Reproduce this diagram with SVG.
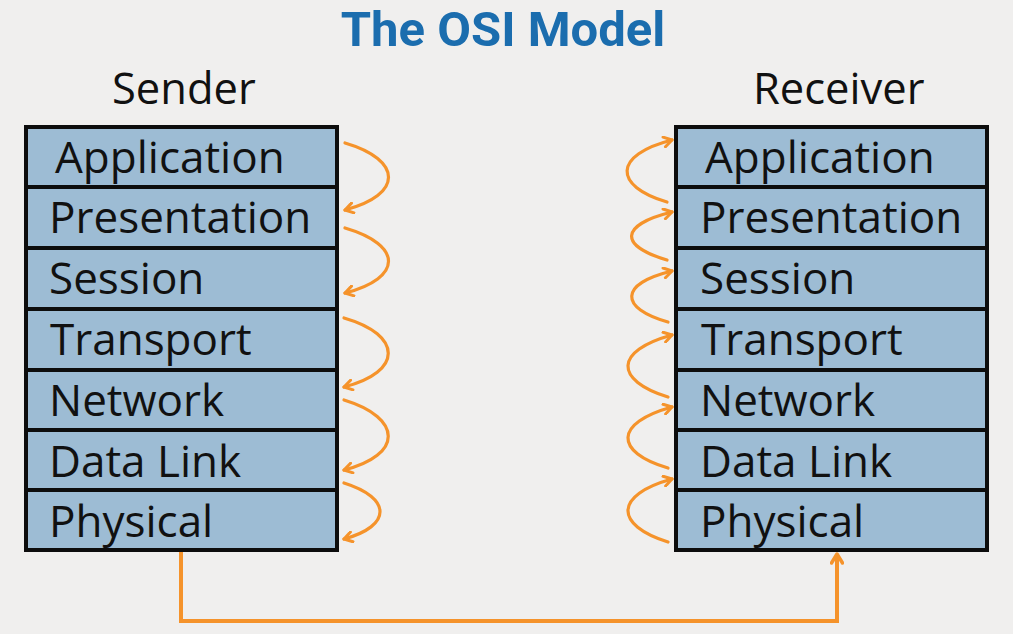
<svg xmlns="http://www.w3.org/2000/svg" width="1013" height="634" viewBox="0 0 1013 634">
<defs>
<style>
.row{fill:#9dbcd4;stroke:#0d0d0d;stroke-width:4}
.lbl{font-family:"Open Sans","Noto Sans",sans-serif;font-size:44px;fill:#111}
.hdr{font-family:"Open Sans","Noto Sans",sans-serif;font-size:43.5px;fill:#111}
.arc{fill:none;stroke:#f5932b;stroke-width:3.2;stroke-linecap:round}
.wire{fill:none;stroke:#f5932b;stroke-width:4}
</style>
<marker id="ah" viewBox="0 0 12 12" refX="10" refY="6" markerWidth="12" markerHeight="12" markerUnits="userSpaceOnUse" orient="auto">
<path d="M2,1 L10,6 L2,11" fill="none" stroke="#f5932b" stroke-width="3" stroke-linecap="round" stroke-linejoin="round"/>
</marker>
<marker id="ah2" viewBox="0 0 14 14" refX="11" refY="7" markerWidth="14" markerHeight="14" markerUnits="userSpaceOnUse" orient="auto">
<path d="M2,1.5 L11,7 L2,12.5" fill="none" stroke="#f5932b" stroke-width="3.5" stroke-linecap="round" stroke-linejoin="round"/>
</marker>
</defs>
<rect width="1013" height="634" fill="#f0efee"/>
<text x="503" y="46" text-anchor="middle" font-family="Roboto,sans-serif" font-weight="bold" font-size="49" fill="#1b6dae">The OSI Model</text>
<text class="hdr" x="112" y="104">Sender</text>
<text class="hdr" x="753" y="104">Receiver</text>

<g id="sender">
<g id="s-application"><rect class="row" x="26" y="127" width="311" height="60"/><text class="lbl" x="55" y="173">Application</text></g>
<g id="s-presentation"><rect class="row" x="26" y="187" width="311" height="61"/><text class="lbl" x="49" y="233">Presentation</text></g>
<g id="s-session"><rect class="row" x="26" y="248" width="311" height="61"/><text class="lbl" x="49" y="294">Session</text></g>
<g id="s-transport"><rect class="row" x="26" y="309" width="311" height="61"/><text class="lbl" x="50" y="355">Transport</text></g>
<g id="s-network"><rect class="row" x="26" y="370" width="311" height="60"/><text class="lbl" x="49" y="416">Network</text></g>
<g id="s-datalink"><rect class="row" x="26" y="430" width="311" height="60"/><text class="lbl" x="49" y="477">Data Link</text></g>
<g id="s-physical"><rect class="row" x="26" y="490" width="311" height="60"/><text class="lbl" x="49" y="537">Physical</text></g>
</g>

<g id="receiver">
<g id="r-application"><rect class="row" x="676" y="127" width="311" height="60"/><text class="lbl" x="705" y="173">Application</text></g>
<g id="r-presentation"><rect class="row" x="676" y="187" width="311" height="61"/><text class="lbl" x="700" y="233">Presentation</text></g>
<g id="r-session"><rect class="row" x="676" y="248" width="311" height="61"/><text class="lbl" x="700" y="294">Session</text></g>
<g id="r-transport"><rect class="row" x="676" y="309" width="311" height="61"/><text class="lbl" x="701" y="355">Transport</text></g>
<g id="r-network"><rect class="row" x="676" y="370" width="311" height="60"/><text class="lbl" x="700" y="416">Network</text></g>
<g id="r-datalink"><rect class="row" x="676" y="430" width="311" height="60"/><text class="lbl" x="700" y="477">Data Link</text></g>
<g id="r-physical"><rect class="row" x="676" y="490" width="311" height="60"/><text class="lbl" x="700" y="537">Physical</text></g>
</g>

<g id="connectors">
<path class="arc" marker-end="url(#ah)" d="M345,143 C403,160 403,195 345,210"/>
<path class="arc" marker-end="url(#ah)" d="M345,228 C403,245 403,278 345,293"/>
<path class="arc" marker-end="url(#ah)" d="M344,318 C403,335 403,372 344,387"/>
<path class="arc" marker-end="url(#ah)" d="M344,400 C403,418 403,455 344,470"/>
<path class="arc" marker-end="url(#ah)" d="M344,483 C392,498 392,526 344,539"/>

<path class="arc" marker-end="url(#ah)" d="M667,202 C613,186 613,155 672,140"/>
<path class="arc" marker-end="url(#ah)" d="M667,260 C619,246 619,225 672,212"/>
<path class="arc" marker-end="url(#ah)" d="M668,322 C619,308 619,284 672,271"/>
<path class="arc" marker-end="url(#ah)" d="M668,397 C614,380 614,351 672,335"/>
<path class="arc" marker-end="url(#ah)" d="M668,468 C614,452 614,423 672,407"/>
<path class="arc" marker-end="url(#ah)" d="M668,542 C614,525 614,495 672,479"/>

<path class="wire" marker-end="url(#ah2)" d="M181,552 V621 H837 V554"/>
</g>
</svg>
